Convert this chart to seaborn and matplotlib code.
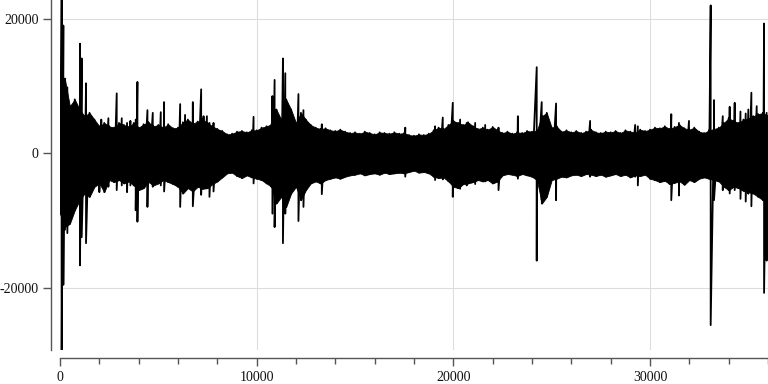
import numpy as np
import pandas as pd
import matplotlib
matplotlib.use("Agg")
import matplotlib.pyplot as plt
import seaborn as sns

# Envelope of the waveform every 250 samples (upper / lower)
env_x = list(range(0, 36001, 250))
env_hi = [9000, 11000, 7000, 8000, 6500, 5500, 6000, 5000, 4000, 4500,
          4000, 3800, 4500, 4200, 3900, 4500, 3800, 4300, 4600, 4000,
          4200, 3800, 4300, 3700, 3800, 4600, 5000, 4400, 4700, 5000,
          4500, 4000, 3600, 3300, 2800, 2900, 3200, 3300, 3100, 3400,
          3400, 3800, 4000, 4300, 6500, 5000, 8000, 6500, 4500, 6000,
          5000, 4200, 3800, 3600, 3700, 3400, 3300, 3500, 3200, 3000,
          3100, 2900, 3200, 3000, 2800, 3100, 3000, 2900, 3100, 2900,
          3000, 2700, 2600, 2800, 2700, 2900, 3400, 3800, 3600, 4200,
          4800, 4500, 4200, 4600, 4000, 3600, 3800, 3500, 3900, 3400,
          3000, 3200, 2900, 3100, 3000, 3300, 3200, 3400, 5500, 6000,
          3800, 4000, 3200, 3400, 3100, 3300, 3000, 3200, 3500, 3100,
          3000, 3200, 3100, 3300, 3000, 3400, 3200, 3100, 3500, 3300,
          3500, 3800, 3700, 4000, 3600, 3900, 4200, 3700, 3500, 3800,
          3200, 3000, 3400, 3600, 3800, 4500, 5200, 4800, 4500, 5000,
          5200, 5500, 5800, 6000, 5500]
env_lo = [-9000, -11000, -10500, -8500, -7000, -6000, -6500, -5000, -4500, -5800,
          -4000, -4300, -4000, -4500, -4200, -4800, -5500, -5200, -4300, -4800,
          -4500, -4000, -4300, -4600, -5000, -6000, -5200, -5700, -5000, -5300,
          -5200, -4600, -4200, -3600, -3000, -2900, -3400, -3700, -3300, -3600,
          -3800, -4000, -4500, -5000, -7500, -6500, -8000, -6000, -5000, -7000,
          -5500, -4500, -4200, -4500, -4000, -3800, -3600, -3800, -3500, -3300,
          -3200, -3000, -3300, -3100, -3000, -3200, -2900, -3100, -3000, -2900,
          -3000, -2800, -2600, -2900, -2800, -3000, -3500, -3700, -3600, -4200,
          -5000, -5200, -4600, -4500, -4300, -4000, -4200, -4000, -4500, -4200,
          -3300, -3100, -3200, -3400, -3100, -3300, -3500, -4000, -7500, -6500,
          -4000, -3800, -3500, -3600, -3300, -3200, -3400, -3100, -3200, -3400,
          -3200, -3500, -3300, -3100, -3400, -3200, -3600, -3300, -3400, -3200,
          -3800, -4000, -4300, -4100, -4600, -4400, -4200, -4700, -4000, -4300,
          -3800, -3600, -3800, -4000, -4200, -5000, -5500, -5000, -5200, -5600,
          -5800, -6000, -6500, -7000, -6500]

# Individual spikes (sample index, peak, trough)
spike_x = [86, 170, 255, 373, 1018, 1103, 1323, 2001, 2100, 2460, 2884, 3140,
           3410, 3580, 3850, 3937, 4446, 4717, 5124, 5294, 6110, 6360, 6754,
           7178, 7300, 7470, 7600, 7806, 9842, 10800, 10912, 11336, 11455,
           12124, 12379, 12752, 13312, 17555, 19073, 19463, 19972, 20345,
           20680, 21110, 21620, 22297, 23281, 24240, 24494, 25224, 26955,
           29246, 29381, 31082, 31472, 31982, 33085, 33254, 33700, 34052,
           34306, 34600, 34866, 35000, 35155, 35426, 35800, 35930]
spike_hi = [22800, 19000, 11100, 9800, 16300, 14100, 10400, 4000, 5000, 5200, 8900, 5200,
            4500, 4800, 5000, 10600, 6400, 6000, 6100, 7600, 7300, 5700, 7600,
            9500, 5500, 5500, 4500, 4500, 5400, 8500, 10900, 14100, 11900,
            8800, 6400, 4000, 4300, 3800, 4000, 5300, 7500, 5000,
            4500, 4500, 4200, 3800, 5500, 12800, 7600, 7400, 4800,
            4200, 4000, 5800, 4500, 4800, 22000, 7900, 5500, 6900,
            7500, 6200, 5900, 6500, 9000, 7000, 19300, 6000]
spike_lo = [-29300, -19600, -11400, -11900, -16700, -12500, -13400, -5800, -4500, -5000, -5500, -4800,
            -5800, -4800, -8500, -10200, -8000, -5000, -4800, -5700, -8000, -5500, -7900,
            -6200, -5000, -5200, -6500, -5700, -4500, -9000, -11000, -13400, -9000,
            -10100, -8000, -4500, -6100, -3500, -4000, -3900, -6500, -5300,
            -4800, -4600, -4200, -5500, -3800, -16000, -7000, -7000, -3500,
            -3500, -4800, -7000, -6300, -4000, -25600, -7000, -5500, -6000,
            -5500, -6800, -7200, -6000, -7900, -4500, -20800, -16000]

x_ticks = [0, 10000, 20000, 30000]
y_ticks = [-20000, 0, 20000]

sns.set_theme(style="ticks")
plt.rcParams["font.family"] = ["Liberation Serif", "DejaVu Serif"]

fig = plt.figure(figsize=(7.68, 3.84), dpi=100)
ax = fig.add_axes([60 / 768, 34 / 384, 708 / 768, 350 / 384])

env = pd.DataFrame({"x": env_x, "hi": env_hi, "lo": env_lo})
spk = pd.DataFrame({"x": spike_x, "hi": spike_hi, "lo": spike_lo})

# solid core of the trace
ax.fill_between(env["x"], env["lo"], env["hi"], color="black", linewidth=0.6,
                edgecolor="black", zorder=3)

# trace: alternate between each read peak and trough, in sample order
pts = pd.concat([env, spk]).sort_values("x").reset_index(drop=True)
trace = pd.DataFrame({
    "x": np.repeat(pts["x"].to_numpy(), 2),
    "y": np.column_stack([pts["hi"].to_numpy(), pts["lo"].to_numpy()]).ravel(),
})
sns.lineplot(data=trace, x="x", y="y", sort=False, estimator=None,
             color="black", lw=1.3, ax=ax, zorder=3)

ax.set_xlim(0, 36000)
ax.set_ylim(-29300, 22800)
ax.set_xticks(x_ticks)
ax.set_xticklabels([str(v) for v in x_ticks])
ax.set_xticks(list(range(0, 36001, 2000)), minor=True)
ax.set_yticks(y_ticks)
ax.set_yticklabels([str(v) for v in y_ticks])
ax.set_xlabel("")
ax.set_ylabel("")
ax.grid(True, which="major", color="#dddddd", lw=0.8, zorder=0)
ax.set_axisbelow(True)

sns.despine(ax=ax, offset={"left": 6.5, "bottom": 6})
for s in ("left", "bottom"):
    ax.spines[s].set_color("#555555")
    ax.spines[s].set_linewidth(1.0)
ax.tick_params(which="major", length=6, width=1, color="#555555",
               labelsize=10, labelcolor="#111111", pad=3)
ax.tick_params(which="minor", length=4, width=1, color="#555555")
ax.tick_params(axis="y", which="minor", left=False)

fig.savefig("out.png", dpi=100)
